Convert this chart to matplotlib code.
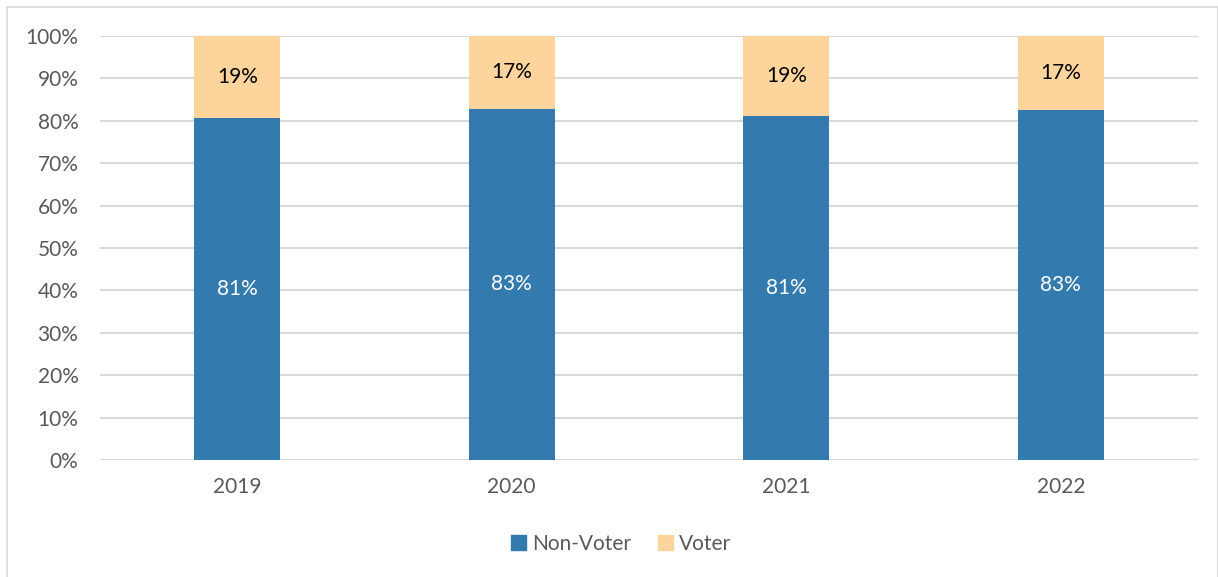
import matplotlib
matplotlib.use("Agg")
import matplotlib.pyplot as plt
from matplotlib.patches import Rectangle, Patch

plt.rcParams['font.family'] = ['Lato', 'DejaVu Sans']

years = ["2019", "2020", "2021", "2022"]
non_voter = [80.7, 82.8, 81.1, 82.6]
voter = [100 - v for v in non_voter]
y_ticks = [0, 10, 20, 30, 40, 50, 60, 70, 80, 90, 100]

BLUE = "#337AAE"
ORANGE = "#FDD59C"
GRID = "#D9D9D9"
TEXT = "#595959"
FS = 15

W, H = 1218, 577
fig = plt.figure(figsize=(W / 100, H / 100), dpi=100)
ax = fig.add_axes([100 / W, 1 - 460 / H, 1098 / W, 424 / H])

x = list(range(len(years)))
bw = 0.313
ax.bar(x, non_voter, width=bw, color=BLUE, zorder=3)
ax.bar(x, voter, width=bw, bottom=non_voter, color=ORANGE, zorder=3)

for xi, nv, v in zip(x, non_voter, voter):
    ax.text(xi, nv / 2, f"{nv:.0f}%", ha="center", va="center",
            color="white", fontsize=FS, zorder=4)
    ax.text(xi, nv + v / 2, f"{v:.0f}%", ha="center", va="center",
            color="black", fontsize=FS, zorder=4)

ax.set_xlim(-0.5, len(years) - 0.5)
ax.set_ylim(0, 100)
ax.set_yticks(y_ticks)
ax.set_yticklabels([f"{t}%" for t in y_ticks])
ax.set_xticks(x)
ax.set_xticklabels(years)
ax.tick_params(axis="both", length=0, labelsize=FS, colors=TEXT)
ax.tick_params(axis="y", pad=15.5)
ax.tick_params(axis="x", pad=12)
ax.yaxis.grid(True, color=GRID, linewidth=1.5, zorder=0)
for s in ax.spines.values():
    s.set_visible(False)

handles = [Patch(color=BLUE, label="Non-Voter"), Patch(color=ORANGE, label="Voter")]
fig.legend(handles=handles, loc="center", bbox_to_anchor=(621 / W, 1 - 544 / H),
           ncol=2, frameon=False, fontsize=FS, labelcolor=TEXT,
           handlelength=0.7, handleheight=0.7, handletextpad=0.3, columnspacing=1.3)

fig.add_artist(Rectangle((7 / W, -0.01), (W - 7) / W, 1 - 7 / H + 0.01,
                         transform=fig.transFigure, fill=False,
                         edgecolor=GRID, linewidth=1.2))

fig.savefig("out.png", dpi=100)
